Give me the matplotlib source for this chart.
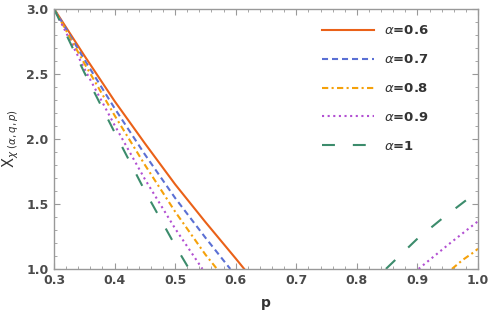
import numpy as np
import matplotlib.pyplot as plt
from matplotlib.ticker import MultipleLocator

# values
p_06 = [0.30, 0.35, 0.40, 0.45, 0.50, 0.55, 0.60, 0.614]
y_06 = [3.00, 2.64, 2.29, 1.965, 1.65, 1.36, 1.08, 1.00]

p_07 = [0.30, 0.35, 0.40, 0.45, 0.50, 0.55, 0.591]
y_07 = [3.00, 2.61, 2.235, 1.88, 1.545, 1.24, 1.00]

p_08 = [0.30, 0.35, 0.40, 0.45, 0.50, 0.55, 0.569]
y_08 = [3.00, 2.58, 2.18, 1.80, 1.44, 1.11, 1.00]
p_08_up = [0.957, 0.975, 0.992, 1.00]
y_08_up = [1.00, 1.07, 1.125, 1.155]

p_09 = [0.30, 0.35, 0.40, 0.45, 0.50, 0.545]
y_09 = [3.00, 2.54, 2.105, 1.69, 1.31, 1.00]
p_09_up = [0.902, 0.910, 0.954, 0.998, 1.00]
y_09_up = [1.00, 1.031, 1.198, 1.359, 1.367]

p_10 = [0.30, 0.35, 0.40, 0.45, 0.50, 0.523]
y_10 = [3.00, 2.51, 2.05, 1.60, 1.18, 1.00]
p_10_up = [0.848, 0.899, 0.940, 0.981, 1.00]
y_10_up = [1.00, 1.228, 1.384, 1.53, 1.59]

labels = ['$\\alpha$=0.6', '$\\alpha$=0.7', '$\\alpha$=0.8', '$\\alpha$=0.9', '$\\alpha$=1']
colors = ['#EA6118', '#5B70D4', '#F5A10A', '#B24FD2', '#3C8C6C']

plt.rcParams['font.family'] = ['DejaVu Sans']
plt.rcParams['mathtext.fontset'] = 'dejavusans'

fig = plt.figure(figsize=(4.91, 3.19), dpi=100)
ax = fig.add_axes([0.110, 0.157, 0.8635, 0.8157])

lw = 1.5
ax.plot(p_06, y_06, color=colors[0], lw=lw, label=labels[0])
ax.plot(p_07, y_07, color=colors[1], lw=lw, dashes=(2.9, 1.9), label=labels[1])
ax.plot(p_08, y_08, color=colors[2], lw=lw, dashes=(3.0, 1.6, 1.0, 1.6), label=labels[2])
ax.plot(p_08_up, y_08_up, color=colors[2], lw=lw, dashes=(3.0, 1.6, 1.0, 1.6))
ax.plot(p_09, y_09, color=colors[3], lw=lw, dashes=(1.0, 1.7), label=labels[3])
ax.plot(p_09_up, y_09_up, color=colors[3], lw=lw, dashes=(1.0, 1.7))
ax.plot(p_10, y_10, color=colors[4], lw=lw, dashes=(6.2, 8.6), label=labels[4])
ax.plot(p_10_up, y_10_up, color=colors[4], lw=lw, dashes=(6.2, 8.6))

ax.set_xlim(0.3, 1.0)
ax.set_ylim(1.0, 3.0)
ax.xaxis.set_major_locator(MultipleLocator(0.1))
ax.xaxis.set_minor_locator(MultipleLocator(0.02))
ax.yaxis.set_major_locator(MultipleLocator(0.5))
ax.yaxis.set_minor_locator(MultipleLocator(0.1))
ax.xaxis.set_major_formatter(plt.FuncFormatter(lambda v, _: '%.1f' % v))
ax.yaxis.set_major_formatter(plt.FuncFormatter(lambda v, _: '%.1f' % v))

for s in ax.spines.values():
    s.set_color('#999999')
    s.set_linewidth(1.0)
ax.tick_params(which='both', direction='in', top=True, right=True, color='#999999')
ax.tick_params(which='major', length=4.5, width=0.8, labelsize=9, labelcolor='#4a4a4a', pad=4)
ax.tick_params(which='minor', length=2.5, width=0.6)
for t in ax.get_xticklabels() + ax.get_yticklabels():
    t.set_fontweight('bold')

ax.set_xlabel('p', fontsize=10, fontweight='bold', color='#333333', labelpad=6)
ax.set_ylabel('X$_{\\chi\\ (\\alpha,q,p)}$', fontsize=10.5, color='#333333', labelpad=4)

leg = ax.legend(loc='upper left', bbox_to_anchor=(0.605, 0.985), frameon=False,
                handlelength=3.9, handletextpad=0.75, labelspacing=1.2,
                prop={'size': 9.5, 'weight': 'bold'})
for t in leg.get_texts():
    t.set_color('#333333')

fig.savefig('out.png', dpi=100)
